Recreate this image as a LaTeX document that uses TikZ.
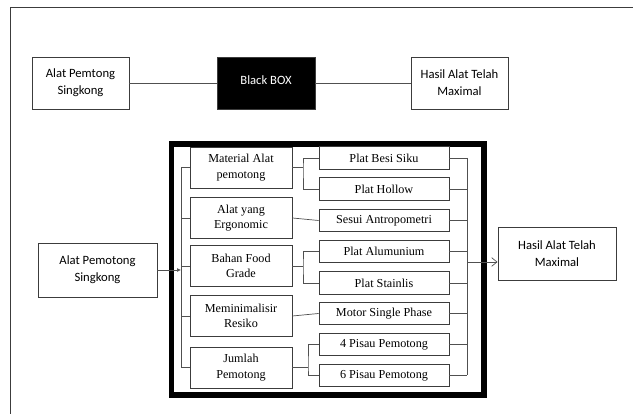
\documentclass[tikz,border=0pt]{standalone}
\usepackage{fontspec}
\setmainfont{Liberation Serif}
\newfontfamily\calibri{Carlito}
\usepackage{xcolor}
\usepackage{tikz}
\usetikzlibrary{arrows.meta}
\definecolor{BBEdge}{HTML}{3C3C3C}
\definecolor{BBLine}{HTML}{505050}

\begin{document}
\begin{tikzpicture}[x=1cm,y=1cm,
  sansbox/.style={draw=BBEdge,line width=0.8pt,minimum width=2.91cm,minimum height=1.56cm,align=center,inner sep=0pt,font=\calibri\fontsize{10.8}{14.5}\selectfont},
  leftbox/.style={draw=BBEdge,line width=0.8pt,minimum width=3.06cm,minimum height=1.23cm,align=center,inner sep=0pt,font=\fontsize{10.4}{13}\selectfont},
  rightbox/.style={draw=BBEdge,line width=0.8pt,minimum width=3.90cm,minimum height=0.675cm,inner sep=0pt,font=\fontsize{10.4}{12}\selectfont},
  link/.style={BBLine,line width=0.6pt}]
\path[use as bounding box] (0,0) rectangle (18.99,12.42);
\draw[BBEdge,line width=0.7pt] (0.30,0) -- (0.30,12.21) -- (18.99,12.21);
\node[sansbox] (in1) at (2.415,9.93) {Alat Pemtong\\Singkong};
\node[sansbox,fill=black,text=white,minimum width=2.94cm] (bbox) at (7.98,9.93) {\raisebox{0.15cm}{Black BOX}};
\node[sansbox] (out1) at (13.785,9.93) {Hasil Alat Telah\\Maximal};
\draw[link] (in1) -- (bbox);
\draw[link] (bbox) -- (out1);
\draw[black,line width=4.3pt] (5.15,0.57) rectangle (14.52,8.10);
\node[sansbox,minimum width=3.57cm,minimum height=1.62cm] (in2) at (2.925,4.32) {Alat Pemotong\\Singkong};
\node[sansbox,minimum width=3.54cm,minimum height=1.59cm] (out2) at (16.71,4.815) {Hasil Alat Telah\\Maximal};
\node[leftbox] (mat) at (7.23,7.395) {Material Alat\\pemotong};
\node[leftbox] (ergo) at (7.23,5.88) {Alat yang\\Ergonomic};
\node[leftbox] (food) at (7.23,4.44) {Bahan Food\\Grade};
\node[leftbox] (risk) at (7.23,2.94) {Meminimalisir\\Resiko};
\node[leftbox] (jml) at (7.23,1.395) {Jumlah\\Pemotong};
\node[rightbox] (besi) at (11.52,7.68) {Plat Besi Siku};
\node[rightbox] (hollow) at (11.52,6.75) {Plat Hollow};
\node[rightbox] (antro) at (11.52,5.805) {Sesui Antropometri};
\node[rightbox] (alum) at (11.52,4.875) {Plat Alumunium};
\node[rightbox] (stain) at (11.52,3.93) {Plat Stainlis};
\node[rightbox] (motor) at (11.52,3.015) {Motor Single Phase};
\node[rightbox] (pisau4) at (11.52,2.085) {4 Pisau Pemotong};
\node[rightbox] (pisau6) at (11.52,1.155) {6 Pisau Pemotong};
\coordinate (lbus) at (5.43,4.32);
\coordinate (f1) at (9.09,7.395);
\coordinate (f2) at (9.09,4.44);
\coordinate (f3) at (9.24,1.395);
\coordinate (rbus) at (14.01,4.56);
\draw[link] (mat.west -| lbus) -- (jml.west -| lbus);
\foreach \b in {mat,ergo,food,risk,jml}
  \draw[link] (\b.west -| lbus) -- (\b.west);
\draw[link,-{Latex[length=1.2mm,width=1.2mm]}] (in2.east) -- (lbus);
\draw[link] (mat.east) -- (f1);
\draw[link] (besi.west) -| (f1) |- (hollow.west);
\draw[link] (ergo.east) -- (antro.west);
\draw[link] (food.east) -- (f2);
\draw[link] (alum.west) -| (f2) |- (stain.west);
\draw[link] (risk.east) -- (motor.west);
\draw[link] (jml.east) -- (f3);
\draw[link] (pisau4.west) -| (f3) |- (pisau6.west);
\draw[link] (besi.east -| rbus) -- (pisau6.east -| rbus);
\foreach \b in {besi,hollow,antro,alum,stain,motor,pisau4,pisau6}
  \draw[link] (\b.east) -- (\b.east -| rbus);
\draw[link,-{Straight Barb[length=1.6mm,width=2.6mm]}] (rbus) -- (rbus -| out2.west);
\end{tikzpicture}
\end{document}
